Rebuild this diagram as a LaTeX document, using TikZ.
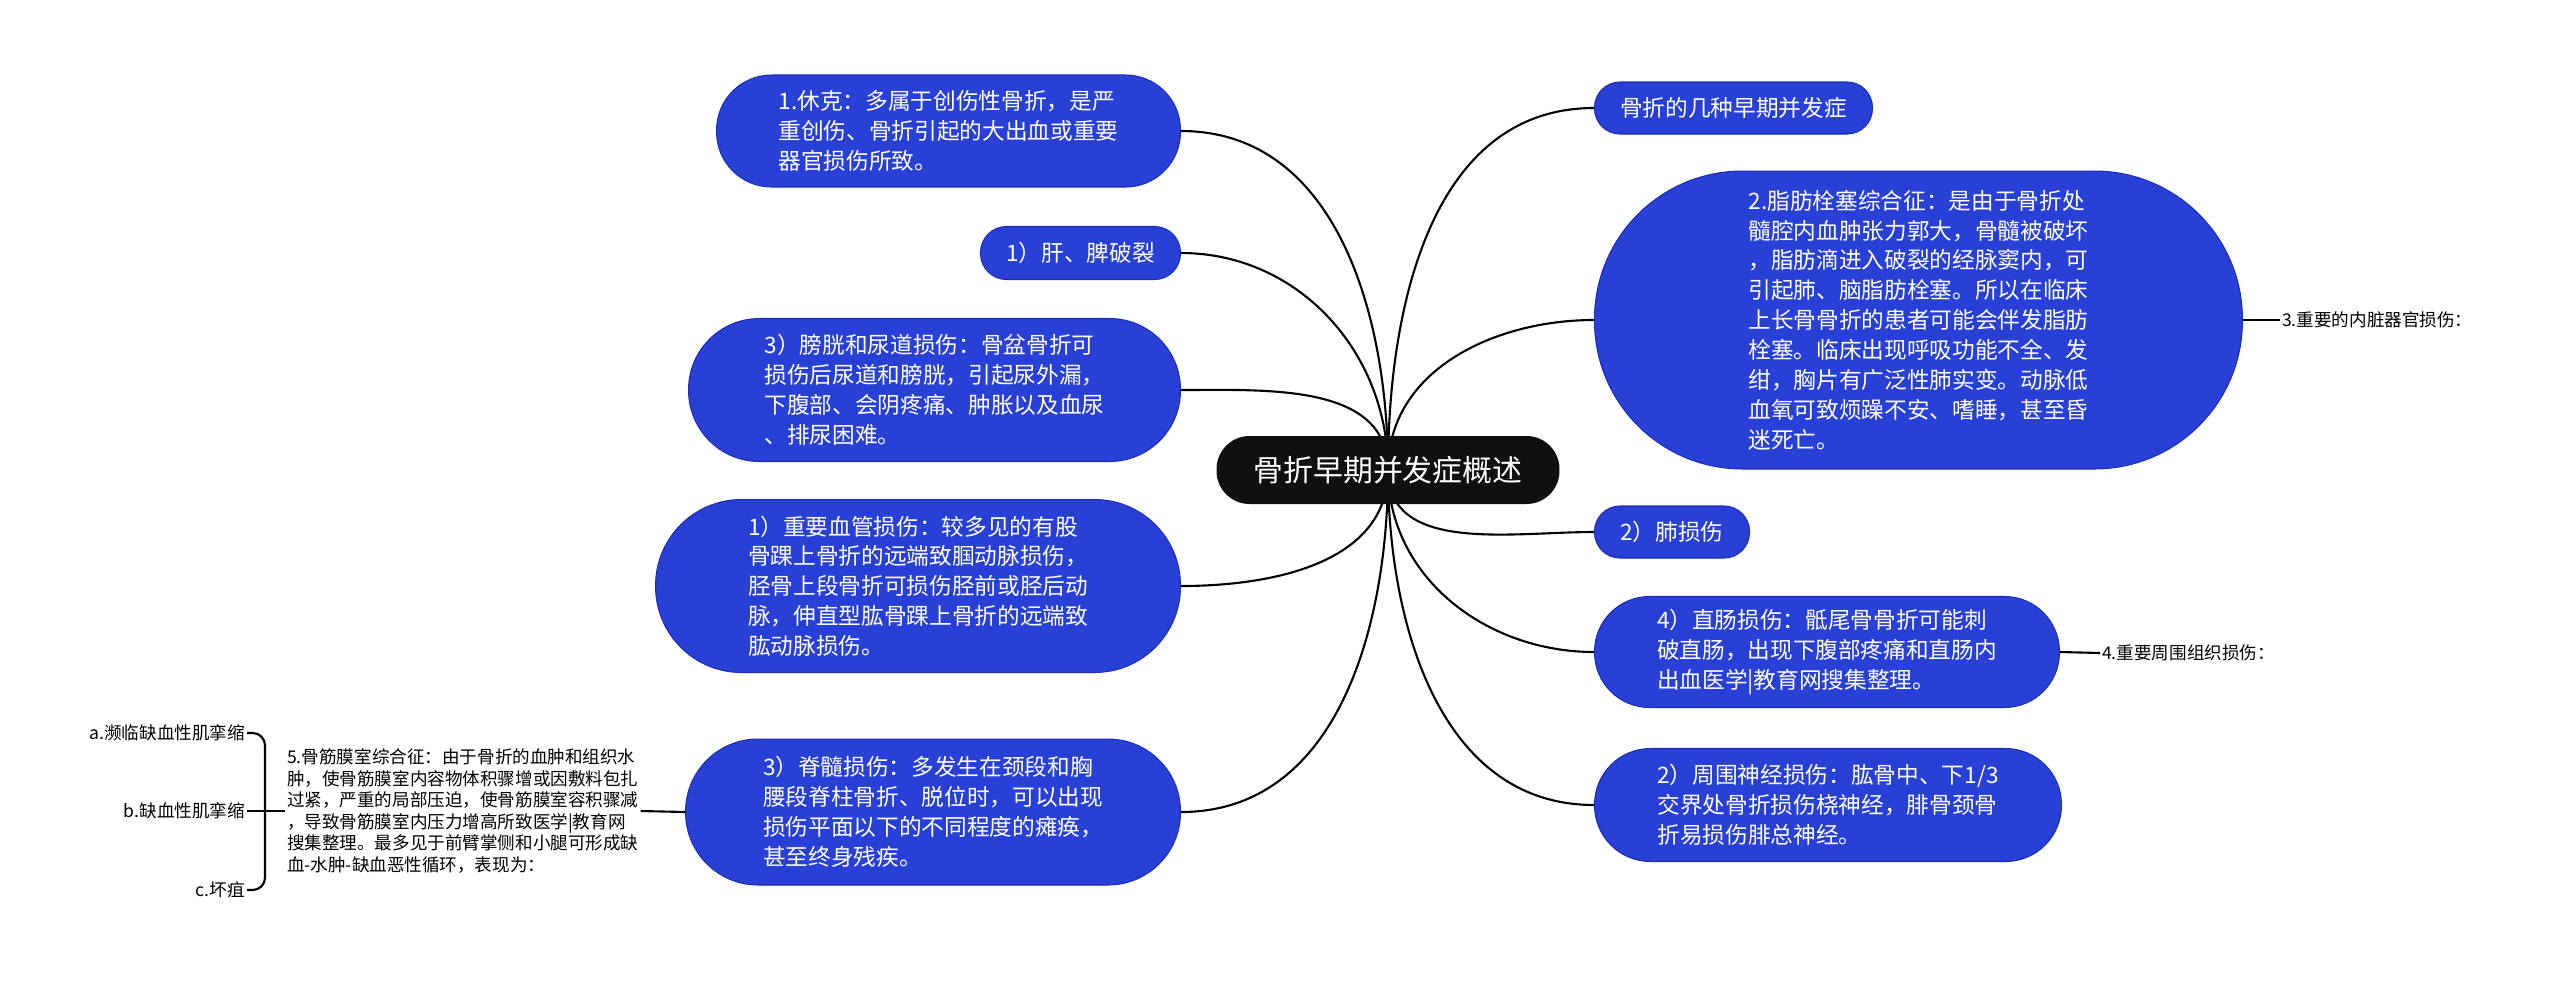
\documentclass[tikz,border=0pt]{standalone}
\usepackage{fontspec}
\setmainfont{Noto Sans CJK SC}
\definecolor{mapblue}{HTML}{2840D6}
\definecolor{mapedge}{HTML}{1B2DB4}
\definecolor{hubblack}{HTML}{101010}
\usetikzlibrary{backgrounds}

\begin{document}
\begin{tikzpicture}[
    x=0.02cm, y=-0.02cm,
    hub/.style={fill=hubblack, text=white, rounded corners=0.66cm,
                minimum width=6.86cm, minimum height=1.36cm,
                font=\fontsize{17}{20}\selectfont},
    topic/.style={draw=mapedge, fill=mapblue, text=white, line width=0.6pt,
                  align=left, font=\fontsize{12.9}{17}\selectfont},
    note/.style={align=left, inner sep=1pt, font=\fontsize{10}{12.3}\selectfont},
    link/.style={line width=1.2pt, black}
  ]
  \useasboundingbox (0,0) rectangle (2560,985);

  \node[hub] (root) at (1388,470) {骨折早期并发症概述};

  % left side
  \node[topic, anchor=east, minimum width=9.28cm, minimum height=2.24cm,
        rounded corners=1.1cm] (shock) at (1181,131)
       {1.休克：多属于创伤性骨折，是严\\
        重创伤、骨折引起的大出血或重要\\
        器官损伤所致。};
  \node[topic, anchor=east, minimum width=4cm, minimum height=1.06cm,
        rounded corners=0.52cm] (liver) at (1181,253) {1）肝、脾破裂};
  \node[topic, anchor=east, minimum width=9.84cm, minimum height=2.86cm,
        rounded corners=1.42cm] (bladder) at (1181,390)
       {3）膀胱和尿道损伤：骨盆骨折可\\
        损伤后尿道和膀胱，引起尿外漏，\\
        下腹部、会阴疼痛、肿胀以及血尿\\
        、排尿困难。};
  \node[topic, anchor=east, minimum width=10.5cm, minimum height=3.46cm,
        rounded corners=1.72cm] (vessel) at (1181,586)
       {1）重要血管损伤：较多见的有股\\
        骨踝上骨折的远端致腘动脉损伤，\\
        胫骨上段骨折可损伤胫前或胫后动\\
        脉，伸直型肱骨踝上骨折的远端致\\
        肱动脉损伤。};
  \node[topic, anchor=east, minimum width=9.9cm, minimum height=2.92cm,
        rounded corners=1.45cm] (spine) at (1181,812)
       {3）脊髓损伤：多发生在颈段和胸\\
        腰段脊柱骨折、脱位时，可以出现\\
        损伤平面以下的不同程度的瘫痪，\\
        甚至终身残疾。};

  % right side
  \node[topic, anchor=west, minimum width=5.56cm, minimum height=1.04cm,
        rounded corners=0.51cm] (kinds) at (1594,108) {骨折的几种早期并发症};
  \node[topic, anchor=west, minimum width=12.96cm, minimum height=5.96cm,
        rounded corners=2.96cm] (fat) at (1594,320)
       {2.脂肪栓塞综合征：是由于骨折处\\
        髓腔内血肿张力郭大，骨髓被破坏\\
        ，脂肪滴进入破裂的经脉窦内，可\\
        引起肺、脑脂肪栓塞。所以在临床\\
        上长骨骨折的患者可能会伴发脂肪\\
        栓塞。临床出现呼吸功能不全、发\\
        绀，胸片有广泛性肺实变。动脉低\\
        血氧可致烦躁不安、嗜睡，甚至昏\\
        迷死亡。};
  \node[topic, anchor=west, minimum width=3.1cm, minimum height=1.04cm,
        rounded corners=0.51cm] (lung) at (1594,532) {2）肺损伤};
  \node[topic, anchor=west, minimum width=9.3cm, minimum height=2.22cm,
        rounded corners=1.1cm] (rectum) at (1594,652)
       {4）直肠损伤：骶尾骨骨折可能刺\\
        破直肠，出现下腹部疼痛和直肠内\\
        出血医学|教育网搜集整理。};
  \node[topic, anchor=west, minimum width=9.34cm, minimum height=2.26cm,
        rounded corners=1.12cm] (nerve) at (1594,805)
       {2）周围神经损伤：肱骨中、下1/3\\
        交界处骨折损伤桡神经，腓骨颈骨\\
        折易损伤腓总神经。};

  % plain labels
  \node[note, anchor=west] (organ) at (2280,320) {3.重要的内脏器官损伤：};
  \node[note, anchor=west] (tissue) at (2100,653) {4.重要周围组织损伤：};
  \node[note, anchor=west] (compart) at (285,811)
       {5.骨筋膜室综合征：由于骨折的血肿和组织水\\
        肿，使骨筋膜室内容物体积骤增或因敷料包扎\\
        过紧，严重的局部压迫，使骨筋膜室容积骤减\\
        ，导致骨筋膜室内压力增高所致医学|教育网\\
        搜集整理。最多见于前臂掌侧和小腿可形成缺\\
        血-水肿-缺血恶性循环，表现为：};
  \node[note, anchor=east] (leafa) at (247,733) {a.濒临缺血性肌挛缩};
  \node[note, anchor=east] (leafb) at (247,811) {b.缺血性肌挛缩};
  \node[note, anchor=east] (leafc) at (247,890) {c.坏疽};
  \coordinate (brace) at (265,811);

  \begin{scope}[on background layer]
    \fill[white] (0,0) rectangle (2560,985);
    \draw[link] (root.center) to[out=90, in=0] (shock.east);
    \draw[link] (root.center) to[out=90, in=0] (liver.east);
    \draw[link] (root.center) to[out=90, in=0] (bladder.east);
    \draw[link] (root.center) to[out=-90, in=0] (vessel.east);
    \draw[link] (root.center) to[out=-90, in=0] (spine.east);
    \draw[link] (root.center) to[out=90, in=180] (kinds.west);
    \draw[link] (root.center) to[out=90, in=180] (fat.west);
    \draw[link] (root.center) to[out=-90, in=180] (lung.west);
    \draw[link] (root.center) to[out=-90, in=180] (rectum.west);
    \draw[link] (root.center) to[out=-90, in=180] (nerve.west);
  \end{scope}

  \draw[link] (fat.east) -- (organ.west);
  \draw[link] (rectum.east) -- (tissue.west);
  \draw[link] (spine.west) -- (compart.east);
  \draw[link] (leafb.east) -- (brace) -- (compart.west);
  \draw[link, rounded corners=7pt] (leafa.east) -| (brace) |- (leafc.east);
\end{tikzpicture}
\end{document}
